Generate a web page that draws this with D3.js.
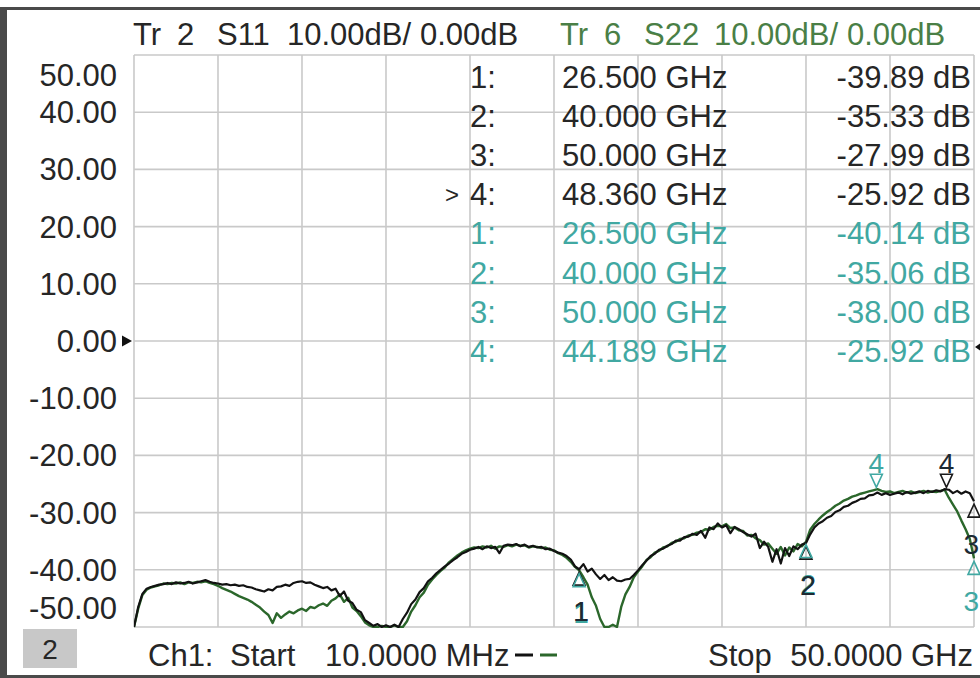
<!DOCTYPE html>
<html>
<head>
<meta charset="utf-8">
<script src="https://cdn.jsdelivr.net/npm/d3@7/dist/d3.min.js"></script>
<style>
  html, body { margin: 0; padding: 0; background: #fff; }
  svg { display: block; }
  text { font-family: "Liberation Sans", Arial, sans-serif; white-space: pre; }
</style>
</head>
<body>
<svg id="chart" width="980" height="678"></svg>
<script>
// ---------- data ----------
const startGHz = 0.01;
const stopGHz = 50;
const yTicks = [50, 40, 30, 20, 10, 0, -10, -20, -30, -40, -50];
const yTickLabels = ["50.00", "40.00", "30.00", "20.00", "10.00", "0.00", "-10.00", "-20.00", "-30.00", "-40.00", "-50.00"];

// S11 trace (Tr 2), dB, 201 sweep points from 10 MHz to 50 GHz
const s11 = [
 -50.0, -46.5, -44.2, -43.3, -43.0, -42.8, -42.6, -42.5, -42.3, -42.5,
 -42.2, -42.4, -42.3, -42.1, -42.4, -42.2, -42.0, -41.8, -42.1, -42.3,
 -42.4, -42.6, -42.5, -42.7, -42.6, -42.8, -42.7, -43.0, -43.1, -43.4,
 -43.6, -43.8, -43.4, -43.6, -43.0, -42.9, -42.6, -42.8, -42.3, -42.1,
 -42.0, -42.3, -42.2, -42.6, -42.9, -43.2, -43.0, -43.6, -43.3, -44.6,
 -43.8, -45.4, -45.8, -47.0, -47.4, -48.8, -49.3, -49.8, -49.5, -50.0,
 -49.7, -50.0, -49.6, -50.0, -48.6, -47.5, -46.0, -45.2, -43.9, -43.2,
 -42.0, -41.4, -40.6, -40.0, -39.4, -38.9, -38.3, -37.8, -37.2, -36.9,
 -36.5, -36.3, -36.0, -36.4, -35.9, -36.2, -36.0, -37.1, -35.8, -35.6,
 -35.7, -35.5, -35.9, -35.6, -36.0, -35.8, -36.1, -36.0, -36.4, -36.3,
 -36.7, -37.0, -37.2, -37.6, -38.2, -39.4, -39.9, -39.0, -40.3, -39.8,
 -40.8, -41.6, -40.9, -41.8, -41.3, -41.9, -42.0, -41.7, -41.6, -40.9,
 -40.1, -39.2, -38.4, -37.6, -37.2, -36.5, -36.3, -35.8, -35.5, -34.9,
 -34.9, -34.3, -34.2, -33.7, -33.9, -33.2, -34.4, -32.6, -32.9, -31.9,
 -32.6, -32.2, -33.6, -32.5, -32.9, -33.4, -33.8, -34.2, -33.7, -36.2,
 -35.1, -36.0, -38.6, -36.4, -38.9, -36.2, -37.6, -35.9, -36.4, -35.6,
 -35.3, -33.8, -32.6, -31.9, -31.5, -30.9, -30.6, -29.9, -29.6, -29.0,
 -28.8, -28.3, -28.0, -27.6, -27.5, -27.0, -26.9, -26.5, -26.9, -26.6,
 -26.9, -26.7, -26.5, -26.8, -26.4, -26.7, -26.5, -26.3, -26.6, -26.2,
 -26.4, -26.1, -26.3, -25.9, -26.0, -26.6, -26.2, -26.7, -26.3, -26.6,
 -28.0
];

// S22 trace (Tr 6), dB, same sweep
const s22 = [
 -50.0, -46.8, -44.4, -43.5, -43.1, -42.9, -42.7, -42.4, -42.5, -42.3,
 -42.4, -42.2, -42.5, -42.2, -42.3, -42.1, -42.2, -42.0, -42.3, -42.5,
 -42.8, -43.2, -43.5, -43.8, -44.2, -44.6, -44.9, -45.2, -45.6, -46.1,
 -46.6, -47.3, -47.9, -49.3, -47.6, -48.4, -47.8, -47.3, -47.6, -47.1,
 -46.8, -47.2, -46.5, -46.7, -46.2, -45.9, -46.3, -45.4, -45.0, -44.3,
 -45.6, -44.9, -46.6, -47.2, -48.1, -49.2, -49.7, -50.0, -50.0, -49.8,
 -50.0, -50.0, -49.7, -50.0, -50.0, -49.0, -47.3, -46.2, -44.8, -44.0,
 -42.6, -41.7, -40.9, -40.2, -39.6, -38.7, -38.1, -37.5, -37.0, -36.6,
 -36.3, -36.1, -36.2, -35.9, -36.1, -35.8, -36.3, -35.9, -36.0, -35.7,
 -35.9, -35.6, -35.8, -35.7, -36.1, -35.9, -36.0, -36.2, -36.1, -36.5,
 -36.6, -37.1, -37.4, -37.9, -38.6, -39.5, -40.1, -41.3, -42.6, -44.8,
 -46.3, -48.6, -50.0, -50.0, -49.6, -50.0, -46.5, -44.3, -43.0, -41.3,
 -40.3, -39.4, -38.3, -37.8, -37.0, -36.7, -36.1, -35.9, -35.3, -35.1,
 -34.6, -34.5, -34.0, -33.9, -33.5, -33.4, -32.9, -33.0, -32.5, -32.3,
 -32.4, -32.0, -32.7, -32.6, -33.1, -33.2, -34.0, -33.9, -34.5, -34.8,
 -35.6, -35.4, -36.3, -37.2, -36.0, -37.5, -36.1, -36.8, -35.5, -35.9,
 -35.1, -33.0, -32.0, -31.2, -30.5, -29.9, -29.4, -28.8, -28.4, -27.9,
 -27.6, -27.2, -27.0, -26.7, -26.5, -26.3, -26.1, -25.9, -26.2, -26.4,
 -26.3, -26.6, -26.4, -26.2, -26.5, -26.3, -26.6, -26.4, -26.2, -26.5,
 -26.3, -26.4, -26.2, -26.0, -27.4, -28.6, -29.8, -31.4, -32.9, -34.6,
 -38.0
];

const markerNums = ["1", "2", "3", "4"];
const s11MarkerFreq = [26.5, 40.0, 50.0, 48.36];
const s11MarkerVal = [-39.89, -35.33, -27.99, -25.92];
const s22MarkerFreq = [26.5, 40.0, 50.0, 44.189];
const s22MarkerVal = [-40.14, -35.06, -38.00, -25.92];
const activeS11Marker = 3; // "> 4:"

const header1 = ["Tr", "2", "S11", "10.00dB/", "0.00dB"];
const header2 = ["Tr", "6", "S22", "10.00dB/", "0.00dB"];
const footerLeft = ["Ch1:", "Start", "10.0000 MHz"];
const footerRight = ["Stop", "50.0000 GHz"];
const channelLabel = "2";

// ---------- styling ----------
const C = {
  text: "#262626",
  grid: "#c9c9c9",
  s11: "#121212",
  s22: "#2b672b",
  s22Head: "#4a7f46",
  teal: "#41a8a2",
  frame: "#4a4a4a"
};
const FS = 31;

// ---------- layout ----------
const svg = d3.select("#chart");
const L = 134, R = 974, T = 55, B = 627;

const x = d3.scaleLinear().domain([startGHz, stopGHz]).range([L, R]);
const y = d3.scaleLinear().domain([-50, 50]).range([B, T]);
const nPts = s11.length;
const fAt = i => startGHz + i * (stopGHz - startGHz) / (nPts - 1);

// frame
svg.append("rect").attr("x", 0).attr("y", 0).attr("width", 980).attr("height", 678).attr("fill", "#fff");
svg.append("rect").attr("x", 0).attr("y", 7).attr("width", 980).attr("height", 3).attr("fill", C.frame);
svg.append("rect").attr("x", 0).attr("y", 7).attr("width", 7).attr("height", 671).attr("fill", C.frame);
svg.append("rect").attr("x", 0).attr("y", 675).attr("width", 980).attr("height", 3).attr("fill", C.frame);

// grid
const divX = d3.scaleLinear().domain([0, 10]).range([L, R]);
const grid = svg.append("g").attr("stroke", C.grid).attr("stroke-width", 1.6);
d3.range(0, 11).forEach(k => {
  grid.append("line").attr("x1", divX(k)).attr("x2", divX(k)).attr("y1", T).attr("y2", B);
});
yTicks.forEach(v => {
  grid.append("line").attr("x1", L).attr("x2", R).attr("y1", y(v)).attr("y2", y(v));
});

// y labels
yTicks.forEach((v, i) => {
  const cy = Math.max(T + 20, Math.min(B - 19, y(v)));
  svg.append("text").attr("x", 117).attr("y", cy + 11)
    .attr("text-anchor", "end").attr("font-size", FS).attr("fill", C.text)
    .text(yTickLabels[i]);
});

// reference arrows at 0 dB
svg.append("path").attr("d", `M${L-12},${y(0)-5.5}L${L-2},${y(0)}L${L-12},${y(0)+5.5}Z`).attr("fill", "#111");
svg.append("path").attr("d", `M${R+1},${y(0)+6}L${R+8},${y(0)+1}L${R+8},${y(0)+11}Z`).attr("fill", "#111");

// header
const h1x = [133, 177, 217, 287, 420];
header1.forEach((t, i) => svg.append("text").attr("x", h1x[i]).attr("y", 45).attr("font-size", FS).attr("fill", C.text).text(t));
header2.forEach((t, i) => svg.append("text").attr("x", h1x[i] + 427).attr("y", 45).attr("font-size", FS).attr("fill", C.s22Head).text(t));

// marker table
const rows = [];
markerNums.forEach((n, i) => rows.push({ n, f: s11MarkerFreq[i], v: s11MarkerVal[i], c: C.text, act: i === activeS11Marker }));
markerNums.forEach((n, i) => rows.push({ n, f: s22MarkerFreq[i], v: s22MarkerVal[i], c: C.teal, act: false }));
rows.forEach((r, i) => {
  const by = 88 + 39.1 * i;
  if (r.act) svg.append("text").attr("x", 445).attr("y", by - 2).attr("font-size", 24).attr("fill", r.c).text(">");
  svg.append("text").attr("x", 470).attr("y", by).attr("font-size", FS).attr("fill", r.c).text(r.n + ":");
  svg.append("text").attr("x", 562).attr("y", by).attr("font-size", FS).attr("fill", r.c).text(r.f.toFixed(3) + " GHz");
  svg.append("text").attr("x", 971).attr("y", by).attr("text-anchor", "end").attr("font-size", FS).attr("fill", r.c).text(r.v.toFixed(2) + " dB");
});

// traces
svg.append("clipPath").attr("id", "plotclip").append("rect")
  .attr("x", L).attr("y", T - 1).attr("width", R - L + 1).attr("height", B - T + 2);
const line = d3.line().x((d, i) => x(fAt(i))).y(d => y(d));
const traces = svg.append("g").attr("clip-path", "url(#plotclip)");
traces.append("path").datum(s22).attr("d", line).attr("fill", "none")
  .attr("stroke", C.s22).attr("stroke-width", 2.4).attr("stroke-linejoin", "round");
traces.append("path").datum(s11).attr("d", line).attr("fill", "none")
  .attr("stroke", C.s11).attr("stroke-width", 2.2).attr("stroke-linejoin", "round");

// markers
function drawMarkers(freqs, vals, color, labelColor) {
  freqs.forEach((f, i) => {
    const mx = x(f), my = y(vals[i]);
    const down = markerNums[i] === "4";
    const atEdge = mx > R - 8;
    const g = svg.append("g");
    if (down) {
      g.append("path").attr("d", `M${mx-6},${my-15}L${mx+6},${my-15}L${mx},${my-2}Z`)
        .attr("fill", "none").attr("stroke", color).attr("stroke-width", 1.6);
      g.append("text").attr("x", mx).attr("y", my - 16).attr("text-anchor", "middle")
        .attr("font-size", 28).attr("fill", labelColor).text(markerNums[i]);
    } else {
      g.append("path").attr("d", `M${mx},${my+3}L${mx+6},${my+16}L${mx-6},${my+16}Z`)
        .attr("fill", "none").attr("stroke", color).attr("stroke-width", 1.6);
      g.append("text").attr("x", atEdge ? 979 : mx + 2).attr("y", my + (atEdge ? 53 : 52))
        .attr("text-anchor", atEdge ? "end" : "middle")
        .attr("font-size", 28).attr("fill", labelColor).text(markerNums[i]);
    }
  });
}
drawMarkers(s11MarkerFreq, s11MarkerVal, "#1a1a1a", "#1d2a33");
drawMarkers(s22MarkerFreq, s22MarkerVal, C.teal, C.teal);
// S11 labels for markers 1 and 2 sit on top where both traces' markers overlap
[0, 1].forEach(i => {
  svg.append("text").attr("x", x(s11MarkerFreq[i]) + 2).attr("y", y(s11MarkerVal[i]) + 52)
    .attr("text-anchor", "middle").attr("font-size", 28).attr("fill", "#1d2a33").text(markerNums[i]);
});

// footer
svg.append("rect").attr("x", 23).attr("y", 629).attr("width", 54).attr("height", 39).attr("fill", "#c8c8c8");
svg.append("text").attr("x", 50).attr("y", 659).attr("text-anchor", "middle").attr("font-size", 28).attr("fill", C.text).text(channelLabel);
const flx = [148, 230, 325];
footerLeft.forEach((t, i) => svg.append("text").attr("x", flx[i]).attr("y", 666).attr("font-size", FS).attr("fill", C.text).text(t));
svg.append("line").attr("x1", 515).attr("x2", 533).attr("y1", 655).attr("y2", 655).attr("stroke", C.s11).attr("stroke-width", 3);
svg.append("line").attr("x1", 540).attr("x2", 557).attr("y1", 655).attr("y2", 655).attr("stroke", C.s22).attr("stroke-width", 3);
svg.append("text").attr("x", 708).attr("y", 666).attr("font-size", FS).attr("fill", C.text).text(footerRight[0]);
svg.append("text").attr("x", 973).attr("y", 666).attr("text-anchor", "end").attr("font-size", FS).attr("fill", C.text).text(footerRight[1]);
</script>
</body>
</html>
